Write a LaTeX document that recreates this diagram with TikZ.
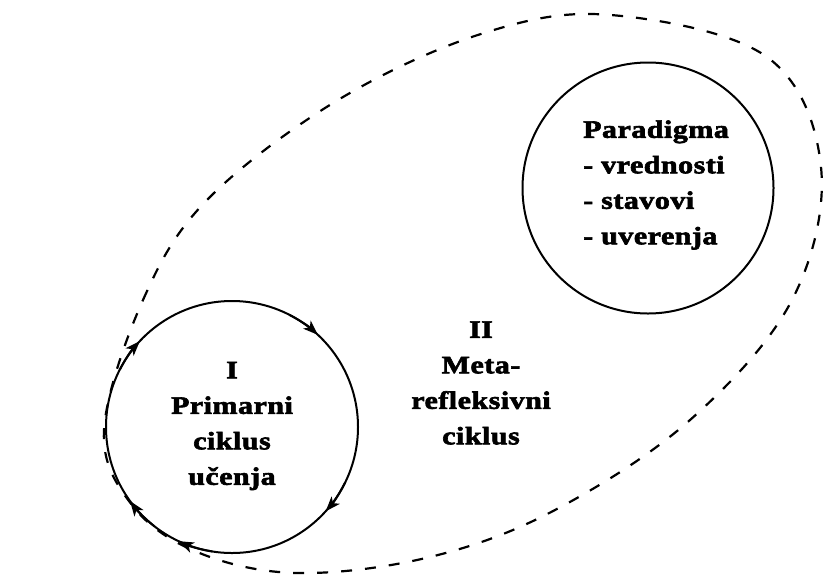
\documentclass[tikz,border=0pt]{standalone}
\usepackage{fontspec}
\setmainfont{Liberation Serif}[FakeStretch=1.2,LetterSpace=2,BoldFeatures={FakeBold=2.5}]
\usetikzlibrary{arrows.meta}
\begin{document}
\begin{tikzpicture}[x=1pt,y=-1pt,
  cyc/.style={circle,draw,line width=2pt,inner sep=0pt},
  lbl/.style={inner sep=0pt,font=\fontsize{25}{35.5}\selectfont\bfseries},
  loop/.style={line width=2.2pt,dash pattern=on 11pt off 13pt},
  flowtip/.style={line width=2pt,-{Stealth[length=15pt,width=11pt,inset=4pt]}}
]
\useasboundingbox (0,0) rectangle (824,576);
% outer dashed loop
\draw[loop] plot[smooth cycle,tension=0.6] coordinates {
 (104,430) (143,300) (207,200) (338,100) (484,33) (611,15) (767,57)
 (821,167) (792,300) (690,420) (555,510) (430,557) (297,573) (197,552) (132,505)};
% primary cycle
\node[cyc,minimum size=252pt] (I) at (232,427) {};
\foreach \a in {42,115,144,223,313}
  \draw[flowtip] (I.center) ++(\a-16:126) arc[start angle=\a-16,end angle=\a,radius=126];
% paradigm circle
\node[cyc,minimum size=251pt] (P) at (648,188) {};
% texts
\node[lbl,align=center] (tI) at (232,426) {I\\Primarni\\ciklus\\učenja};
\node[lbl,align=center] (tII) at (481,383) {II\\Meta-\\refleksivni\\ciklus};
\node[lbl,align=left,anchor=west] (tP) at (583,185) {Paradigma\\- vrednosti\\- stavovi\\- uverenja};
\end{tikzpicture}
\end{document}
